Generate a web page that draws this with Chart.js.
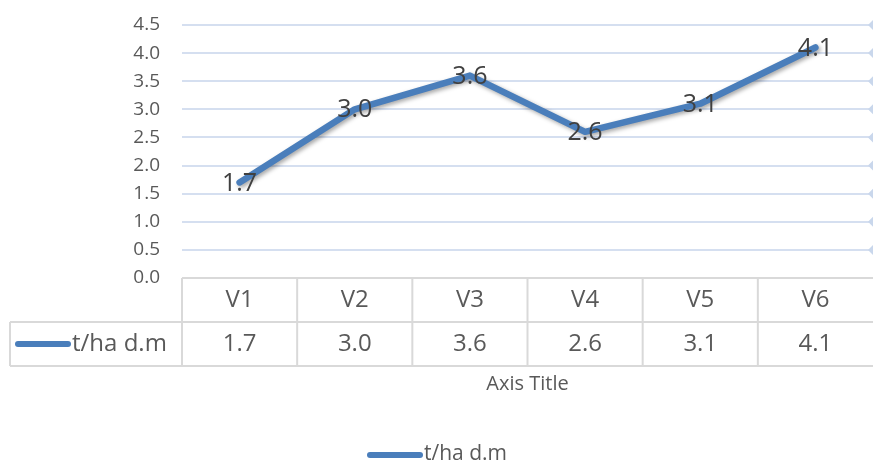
<!DOCTYPE html>
<html>
<head>
<meta charset="utf-8">
<script src="https://cdn.jsdelivr.net/npm/chart.js@4.4.1/dist/chart.umd.min.js"></script>
<style>
  html, body { margin: 0; padding: 0; background: #ffffff; }
  #wrap { width: 873px; height: 464px; position: relative; }
</style>
</head>
<body>
<div id="wrap"><canvas id="yieldChart" width="873" height="464"></canvas></div>
<script>
// chart data
const categories = ['V1', 'V2', 'V3', 'V4', 'V5', 'V6'];
const yieldValues = [1.7, 3.0, 3.6, 2.6, 3.1, 4.1];
const seriesName = 't/ha d.m';
const xAxisTitle = 'Axis Title';
const yMin = 0;
const yMax = 4.5;
const yStep = 0.5;

const lineColor = '#4a7ebb';
const gridColor = '#d5dff0';
const tableBorder = '#d9d9d9';
const textGrey = '#595959';
const fontFamily = '"Open Sans", "Noto Sans", sans-serif';

// soft shadow under the line, like the office chart
const shadowPlugin = {
    id: 'lineShadow',
    beforeDatasetDraw(chart) {
        const ctx = chart.ctx;
        ctx.save();
        ctx.shadowColor = 'rgba(0, 0, 0, 0.35)';
        ctx.shadowBlur = 4;
        ctx.shadowOffsetX = 2;
        ctx.shadowOffsetY = 2;
    },
    afterDatasetDraw(chart) {
        chart.ctx.restore();
    }
};

// value labels centred on each point
const valueLabels = {
    id: 'valueLabels',
    afterDatasetsDraw(chart) {
        const ctx = chart.ctx;
        const meta = chart.getDatasetMeta(0);
        ctx.save();
        ctx.font = '25px ' + fontFamily;
        ctx.fillStyle = '#404040';
        ctx.textAlign = 'center';
        ctx.textBaseline = 'middle';
        meta.data.forEach((pt, i) => {
            ctx.fillText(yieldValues[i].toFixed(1), pt.x, pt.y + 1);
        });
        ctx.restore();
    }
};

// data table under the plot + axis title + legend
const dataTable = {
    id: 'dataTable',
    afterDraw(chart) {
        const ctx = chart.ctx;
        const area = chart.chartArea;
        const xs = chart.scales.x;
        const ys = chart.scales.y;
        const colW = (area.right - area.left) / categories.length;
        const rowH = 44;
        const top = area.bottom;
        const mid = top + rowH;
        const bot = mid + rowH;
        const keyLeft = 10;

        ctx.save();

        // diamonds at the right edge of each gridline
        ctx.fillStyle = '#c9d7ec';
        ys.ticks.forEach(t => {
            if (t.value === 0) return;
            const y = ys.getPixelForValue(t.value);
            const cx = area.right + 3;
            ctx.beginPath();
            ctx.moveTo(cx - 8, y);
            ctx.lineTo(cx, y - 8);
            ctx.lineTo(cx + 8, y);
            ctx.lineTo(cx, y + 8);
            ctx.closePath();
            ctx.fill();
        });

        ctx.strokeStyle = tableBorder;
        ctx.lineWidth = 2;
        ctx.beginPath();
        ctx.moveTo(area.left, top);
        ctx.lineTo(area.right, top);
        ctx.moveTo(keyLeft, mid);
        ctx.lineTo(area.right, mid);
        ctx.moveTo(keyLeft, bot);
        ctx.lineTo(area.right, bot);
        ctx.moveTo(keyLeft, mid);
        ctx.lineTo(keyLeft, bot);
        for (let i = 0; i < categories.length; i++) {
            const x = xs.getPixelForValue(i) - colW / 2;
            ctx.moveTo(x, top);
            ctx.lineTo(x, bot);
        }
        ctx.stroke();

        ctx.fillStyle = textGrey;
        ctx.font = '24px ' + fontFamily;
        ctx.textAlign = 'center';
        ctx.textBaseline = 'middle';
        categories.forEach((c, i) => {
            const x = xs.getPixelForValue(i);
            ctx.fillText(c, x, top + rowH / 2);
            ctx.fillText(yieldValues[i].toFixed(1), x, mid + rowH / 2);
        });

        // legend key inside the table
        ctx.strokeStyle = lineColor;
        ctx.lineWidth = 6;
        ctx.lineCap = 'round';
        ctx.beginPath();
        ctx.moveTo(18, mid + rowH / 2);
        ctx.lineTo(68, mid + rowH / 2);
        ctx.stroke();
        ctx.textAlign = 'left';
        ctx.fillText(seriesName, 72, mid + rowH / 2);

        // axis title
        ctx.font = '20px ' + fontFamily;
        ctx.textAlign = 'center';
        ctx.fillText(xAxisTitle, (area.left + area.right) / 2, 384);

        // bottom legend
        ctx.beginPath();
        ctx.moveTo(370, 455);
        ctx.lineTo(420, 455);
        ctx.stroke();
        ctx.font = '21px ' + fontFamily;
        ctx.textAlign = 'left';
        ctx.fillText(seriesName, 424, 454);

        ctx.restore();
    }
};

const ctx = document.getElementById('yieldChart').getContext('2d');
const yieldChart = new Chart(ctx, {
    type: 'line',
    data: {
        labels: categories,
        datasets: [{
            label: seriesName,
            data: yieldValues,
            borderColor: lineColor,
            borderWidth: 6.5,
            borderCapStyle: 'round',
            borderJoinStyle: 'round',
            pointRadius: 0,
            tension: 0,
            fill: false
        }]
    },
    options: {
        responsive: false,
        animation: false,
        layout: {
            padding: { left: 0, right: 0, top: 25, bottom: 186 }
        },
        plugins: {
            legend: { display: false },
            tooltip: { enabled: false }
        },
        scales: {
            x: {
                type: 'category',
                offset: true,
                display: false
            },
            y: {
                min: yMin,
                max: yMax,
                border: { display: false },
                grid: {
                    drawTicks: false,
                    lineWidth: 2,
                    color: c => (c.tick && c.tick.value === 0) ? 'rgba(0,0,0,0)' : gridColor
                },
                ticks: {
                    stepSize: yStep,
                    padding: 22,
                    color: textGrey,
                    font: { family: fontFamily, size: 19 },
                    callback: v => Number(v).toFixed(1)
                },
                afterFit: scale => {
                    scale.width = 182;
                    scale.paddingTop = 0;
                    scale.paddingBottom = 0;
                }
            }
        }
    },
    plugins: [shadowPlugin, valueLabels, dataTable]
});
</script>
</body>
</html>
